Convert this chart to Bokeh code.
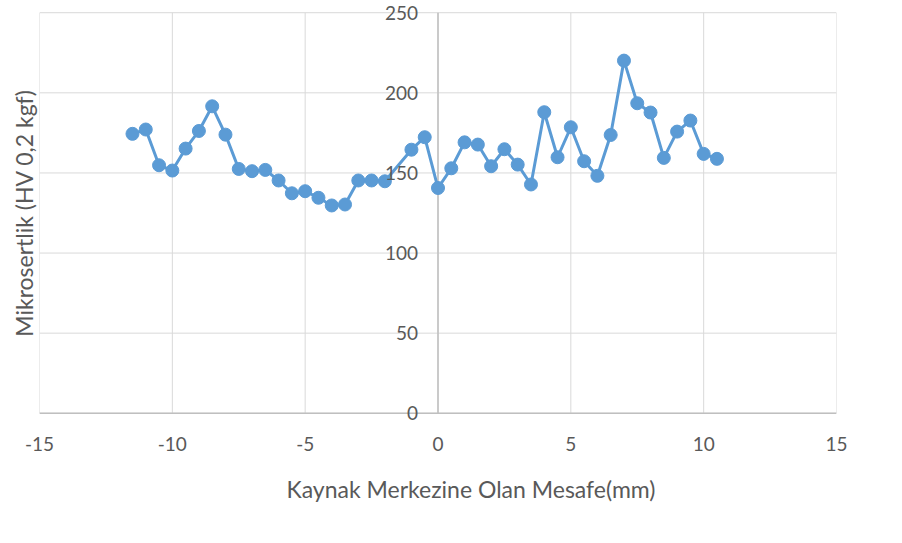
from bokeh.plotting import figure
from bokeh.models import (Range1d, FixedTicker, Title, PrintfTickFormatter,
                          LabelSet, ColumnDataSource)
from bokeh.core.properties import value
from bokeh.embed import file_html
from bokeh.resources import INLINE

# Data
mesafe = [-11.5, -11, -10.5, -10, -9.5, -9, -8.5, -8, -7.5, -7, -6.5, -6, -5.5, -5,
          -4.5, -4, -3.5, -3, -2.5, -2, -1, -0.5, 0, 0.5, 1, 1.5, 2, 2.5, 3, 3.5,
          4, 4.5, 5, 5.5, 6, 6.5, 7, 7.5, 8, 8.5, 9, 9.5, 10, 10.5]
sertlik = [174.4, 177.1, 154.8, 151.5, 165.2, 176.2, 191.6, 173.9, 152.5, 151.1,
           151.9, 145.3, 137.3, 138.6, 134.5, 129.7, 130.3, 145.3, 145.3, 144.8,
           164.5, 172.3, 140.6, 152.9, 169.1, 167.7, 154.2, 164.8, 155.2, 142.8,
           187.9, 159.8, 178.5, 157.3, 148.2, 173.7, 220.1, 193.5, 187.7, 159.4,
           175.8, 182.7, 161.9, 158.8]
x_ticks = [-15, -10, -5, 0, 5, 10, 15]
y_ticks = [0, 50, 100, 150, 200, 250]
y_tick_labels = ["0", "50", "100", "150", "200", "250"]

x_title = "Kaynak Merkezine Olan Mesafe(mm)"
y_title = "Mikrosertlik (HV 0,2 kgf)"

FONT = "Lato"
TXT = "#595959"
SERIES = "#5B9BD5"
GRID = "#d9d9d9"
AXIS = "#bfbfbf"

x_min, x_max = x_ticks[0], x_ticks[-1]
y_min, y_max = y_ticks[0], y_ticks[-1]
pad = 7  # room around the value axis so its labels are not clipped

p = figure(width=886, height=527, output_backend="svg", toolbar_location=None,
           title_location=None,
           x_range=Range1d(x_min, x_max), y_range=Range1d(y_min - pad, y_max + pad),
           min_border_left=39, min_border_right=50, min_border_top=1,
           min_border_bottom=103)
p.outline_line_color = None
p.xgrid.visible = False
p.ygrid.visible = False
p.yaxis.visible = False

# gridlines, bounded to the value range
n = len(x_ticks)
p.segment(x0=x_ticks, y0=[y_min] * n, x1=x_ticks, y1=[y_max] * n,
          line_color=GRID, line_width=1)
m = len(y_ticks)
p.segment(x0=[x_min] * m, y0=y_ticks, x1=[x_max] * m, y1=y_ticks,
          line_color=GRID, line_width=1)
# axis lines crossing at the origin
p.segment(x0=[0], y0=[y_min], x1=[0], y1=[y_max], line_color=AXIS, line_width=1.5)
p.segment(x0=[x_min], y0=[0], x1=[x_max], y1=[0], line_color=AXIS, line_width=1.5)

# x axis labels (bottom)
xa = p.xaxis[0]
xa.ticker = FixedTicker(ticks=x_ticks)
xa.formatter = PrintfTickFormatter(format="%d")
xa.axis_line_color = None
xa.major_tick_line_color = None
xa.minor_tick_line_color = None
xa.major_label_standoff = 6
xa.major_label_text_font = FONT
xa.major_label_text_font_size = "19px"
xa.major_label_text_color = TXT

# y value labels beside the axis at x = 0
ylab_src = ColumnDataSource(dict(x=[0] * m, y=y_ticks, text=y_tick_labels))
p.add_layout(LabelSet(x="x", y="y", text="text", source=ylab_src, x_offset=-20,
                      text_align="right", text_baseline="middle",
                      text_font=value(FONT), text_font_size=value("19px"),
                      text_color=value(TXT)))

p.add_layout(Title(text=y_title, align="center", vertical_align="bottom",
                   text_font=FONT, text_font_size="23px", text_font_style="normal",
                   text_color=TXT, standoff=4), "left")
p.add_layout(Title(text=x_title, align="left", offset=247, text_font=FONT,
                   text_font_size="23px", text_font_style="normal",
                   text_color=TXT, standoff=38), "below")

p.line(mesafe, sertlik, line_color=SERIES, line_width=3)
p.scatter(mesafe, sertlik, size=13, fill_color=SERIES, line_color=SERIES)

open("out.html", "w").write(file_html(p, INLINE))
